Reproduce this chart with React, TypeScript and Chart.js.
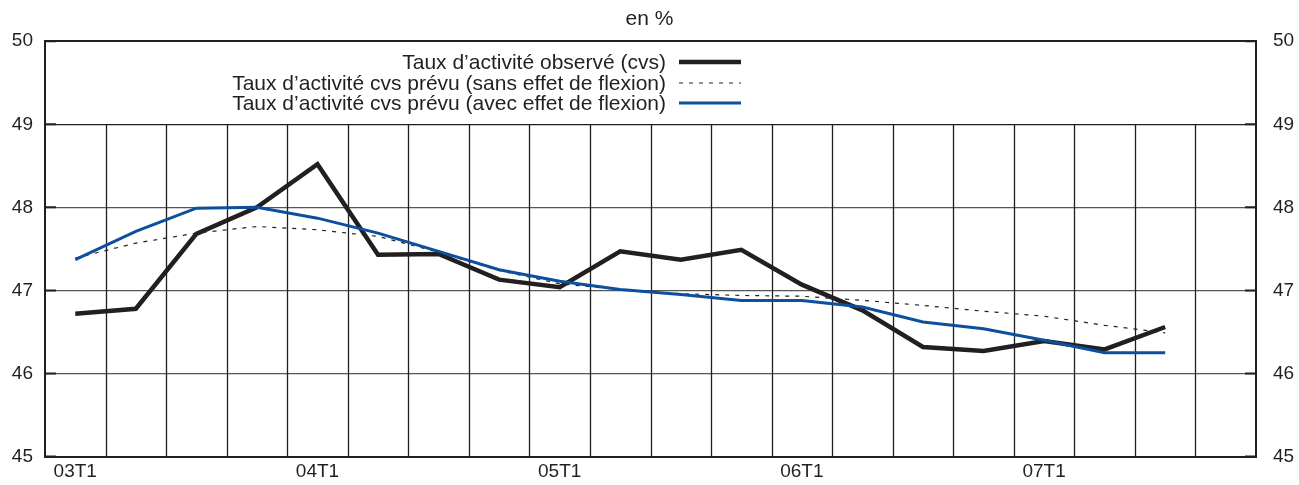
import React, { useEffect, useRef } from "react";
import { Chart, registerables } from "chart.js";

Chart.register(...registerables);

const categories = [
  "03T1", "03T2", "03T3", "03T4",
  "04T1", "04T2", "04T3", "04T4",
  "05T1", "05T2", "05T3", "05T4",
  "06T1", "06T2", "06T3", "06T4",
  "07T1", "07T2", "07T3", "07T4",
];

const observed = [
  46.72, 46.78, 47.68, 48.0, 48.52, 47.43, 47.44, 47.13, 47.04, 47.47,
  47.37, 47.49, 47.07, 46.76, 46.32, 46.27, 46.39, 46.29, 46.56,
];

const forecastNoFlexion = [
  47.39, 47.57, 47.69, 47.77, 47.73, 47.65, 47.46, 47.24, 47.08, 47.01,
  46.96, 46.94, 46.93, 46.88, 46.82, 46.75, 46.69, 46.58, 46.49,
];

const forecastWithFlexion = [
  47.37, 47.71, 47.99, 48.0, 47.87, 47.69, 47.47, 47.25, 47.11, 47.01,
  46.95, 46.88, 46.88, 46.8, 46.62, 46.54, 46.4, 46.25, 46.25,
];

const yTicks = [45, 46, 47, 48, 49, 50];

const legendLabels = [
  "Taux d\u2019activité observé (cvs)",
  "Taux d\u2019activité cvs prévu (sans effet de flexion)",
  "Taux d\u2019activité cvs prévu (avec effet de flexion)",
];

const titleText = "en %";

const FONT = '"Liberation Sans", Arial, Helvetica, sans-serif';
const INK = "#231f20";
const BLUE = "#0b4f9e";

export default function App() {
  const ref = useRef<HTMLCanvasElement | null>(null);

  useEffect(() => {
    if (!ref.current) return;

    const gridPlugin = {
      id: "customGrid",
      beforeDatasetsDraw(chart: any) {
        const { ctx } = chart;
        const x = chart.scales.x;
        const y = chart.scales.y;
        const yTop = y.getPixelForValue(49);
        const yBot = y.getPixelForValue(45);
        ctx.save();
        ctx.strokeStyle = INK;
        ctx.lineWidth = 1.3;
        for (let i = 1; i < categories.length; i++) {
          const px = (x.getPixelForValue(i - 1) + x.getPixelForValue(i)) / 2;
          ctx.beginPath();
          ctx.moveTo(Math.round(px) + 0.5, yTop);
          ctx.lineTo(Math.round(px) + 0.5, yBot);
          ctx.stroke();
        }
        ctx.restore();
      },
      afterDraw(chart: any) {
        const { ctx, chartArea } = chart;
        const y = chart.scales.y;
        ctx.save();
        ctx.strokeStyle = INK;
        ctx.lineWidth = 2;
        for (const v of yTicks) {
          const py = y.getPixelForValue(v);
          ctx.beginPath();
          ctx.moveTo(chartArea.left, py);
          ctx.lineTo(chartArea.left + 11, py);
          ctx.moveTo(chartArea.right - 11, py);
          ctx.lineTo(chartArea.right, py);
          ctx.stroke();
        }
        const styles = [
          { color: INK, width: 4.5, dash: [] as number[] },
          { color: "#222", width: 1.2, dash: [4, 6] },
          { color: BLUE, width: 3, dash: [] as number[] },
        ];
        const textRight = 666;
        const lineX0 = 679;
        const lineX1 = 741;
        const rowY = [62, 83, 103];
        ctx.font = `21px ${FONT}`;
        ctx.textAlign = "right";
        ctx.textBaseline = "middle";
        ctx.fillStyle = INK;
        legendLabels.forEach((label, i) => {
          ctx.fillText(label, textRight, rowY[i] + 1);
          const s = styles[i];
          ctx.beginPath();
          ctx.setLineDash(s.dash);
          ctx.strokeStyle = s.color;
          ctx.lineWidth = s.width;
          ctx.moveTo(lineX0, rowY[i]);
          ctx.lineTo(lineX1, rowY[i]);
          ctx.stroke();
          ctx.setLineDash([]);
        });
        ctx.restore();
      },
    };

    const chart = new Chart(ref.current, {
      type: "line",
      data: {
        labels: categories,
        datasets: [
          {
            label: legendLabels[0],
            data: observed,
            borderColor: INK,
            borderWidth: 4.5,
            pointRadius: 0,
            tension: 0,
            order: 2,
          },
          {
            label: legendLabels[1],
            data: forecastNoFlexion,
            borderColor: "#222",
            borderWidth: 1.2,
            borderDash: [4, 6],
            pointRadius: 0,
            tension: 0,
            order: 1,
          },
          {
            label: legendLabels[2],
            data: forecastWithFlexion,
            borderColor: BLUE,
            borderWidth: 3,
            pointRadius: 0,
            tension: 0,
            order: 0,
          },
        ],
      },
      plugins: [gridPlugin],
      options: {
        responsive: false,
        animation: false,
        devicePixelRatio: 1,
        layout: { padding: 0 },
        plugins: {
          legend: { display: false },
          tooltip: { enabled: false },
          title: {
            display: true,
            text: titleText,
            color: INK,
            font: { family: FONT, size: 21, weight: "normal" },
            padding: { top: 7, bottom: 9 },
          },
        },
        scales: {
          x: {
            type: "category",
            offset: true,
            grid: { display: false, drawTicks: false },
            border: { display: true, color: INK, width: 2 },
            ticks: {
              autoSkip: false,
              maxRotation: 0,
              padding: 4,
              color: INK,
              font: { family: FONT, size: 19 },
              callback: (_v: any, i: number) => (i % 4 === 0 ? categories[i] : ""),
            },
            afterFit: (s: any) => {
              s.height = 26;
            },
          },
          y: {
            type: "linear",
            position: "left",
            min: 45,
            max: 50,
            grid: {
              drawTicks: false,
              color: (c: any) => (c.tick && (c.tick.value === 49 || c.tick.value === 50) ? INK : "#555"),
              lineWidth: (c: any) => (c.tick && c.tick.value === 50 ? 2 : 1.3),
            },
            border: { display: true, color: INK, width: 2 },
            ticks: {
              stepSize: 1,
              padding: 12,
              color: INK,
              font: { family: FONT, size: 19 },
            },
            afterFit: (s: any) => {
              s.width = 45;
            },
          },
          y2: {
            type: "linear",
            position: "right",
            min: 45,
            max: 50,
            grid: { display: false, drawTicks: false },
            border: { display: true, color: INK, width: 2 },
            ticks: {
              stepSize: 1,
              padding: 17,
              color: INK,
              font: { family: FONT, size: 19 },
            },
            afterFit: (s: any) => {
              s.width = 43;
            },
          },
        },
      },
    });

    return () => chart.destroy();
  }, []);

  return (
    <div style={{ position: "fixed", left: 0, top: 0, width: 1299, height: 485, background: "#fff" }}>
      <canvas ref={ref} width={1299} height={485} />
    </div>
  );
}
